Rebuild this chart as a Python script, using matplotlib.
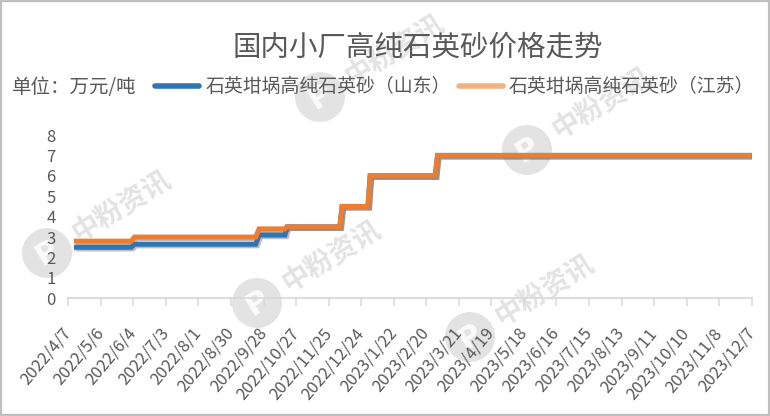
import datetime as dt
import numpy as np
import matplotlib
matplotlib.use("Agg")
import matplotlib.pyplot as plt
import matplotlib.patheffects as pe
from matplotlib.patches import Circle, Rectangle
from matplotlib.transforms import IdentityTransform, ScaledTranslation

plt.rcParams['font.family'] = ['Noto Sans CJK SC', 'DejaVu Sans']

# ---- data -------------------------------------------------------------
title = "国内小厂高纯石英砂价格走势"
unit_label = "单位：万元/吨"
series_names = ["石英坩埚高纯石英砂（山东）", "石英坩埚高纯石英砂（江苏）"]

dates = ["2022-04-12", "2022-06-02", "2022-06-05", "2022-09-21", "2022-09-24",
         "2022-10-17", "2022-10-19", "2022-12-05", "2022-12-07", "2022-12-30",
         "2023-01-01", "2023-02-28", "2023-03-02", "2023-12-07"]
shandong = [2.5, 2.5, 2.65, 2.65, 3.1, 3.1, 3.5, 3.5, 4.5, 4.5, 6, 6, 7, 7]
jiangsu = [2.8, 2.8, 3.0, 3.0, 3.4, 3.4, 3.5, 3.5, 4.5, 4.5, 6, 6, 7, 7]

tick_labels = ["2022/4/7", "2022/5/6", "2022/6/4", "2022/7/3", "2022/8/1",
               "2022/8/30", "2022/9/28", "2022/10/27", "2022/11/25", "2022/12/24",
               "2023/1/22", "2023/2/20", "2023/3/21", "2023/4/19", "2023/5/18",
               "2023/6/16", "2023/7/15", "2023/8/13", "2023/9/11", "2023/10/10",
               "2023/11/8", "2023/12/7"]
y_ticks = [0, 1, 2, 3, 4, 5, 6, 7, 8]

# ---- styling ----------------------------------------------------------
BLUE = "#2e75b6"
ORANGE = "#ed7d31"
ORANGE_LEGEND = "#f4b183"
TEXT = "#595959"
AXIS = "#d9d9d9"

W, H = 770, 416
fig = plt.figure(figsize=(W / 100, H / 100), dpi=100)
fig.patch.set_facecolor("white")


def watermark(cx, cy):
    """Faint rotated brand mark, (cx, cy) in pixels from the top-left."""
    ang = 32
    y = H - cy
    fig.add_artist(Circle((cx, y), 25, transform=IdentityTransform(),
                          facecolor="#c8c8c8", edgecolor="none", alpha=0.5, zorder=-5))
    fig.text(cx, y, "P", transform=IdentityTransform(), color="white",
             fontsize=22, fontweight="bold", rotation=ang, ha="center", va="center",
             rotation_mode="anchor", alpha=0.85, zorder=-4, family="DejaVu Sans")
    r = np.deg2rad(ang)
    fig.text(cx + 33 * np.cos(r), y + 33 * np.sin(r), "中粉资讯",
             transform=IdentityTransform(), color="#c8c8c8", alpha=0.5,
             fontsize=20, fontweight="bold", rotation=ang, ha="left", va="center",
             rotation_mode="anchor", zorder=-4)


for cx, cy in [(320, 97), (47, 253), (257, 303), (527, 150), (470, 337)]:
    watermark(cx, cy)

x0, x1 = 68.3, 751.7
y0, y1 = 298.3, 135.0
ax = fig.add_axes([x0 / W, 1 - y0 / H, (x1 - x0) / W, (y0 - y1) / H])
ax.set_facecolor("none")

x = [dt.datetime.strptime(d, "%Y-%m-%d") for d in dates]
shadow = [pe.SimpleLineShadow(offset=(1.2, -1.2), shadow_color="#6b6b6b", alpha=0.45),
          pe.Normal()]
l1, = ax.plot(x, shandong, color=BLUE, lw=3.6, solid_capstyle="butt",
              solid_joinstyle="miter", path_effects=shadow, label=series_names[0], zorder=3)
l2, = ax.plot(x, jiangsu, color=ORANGE, lw=3.6, solid_capstyle="butt",
              solid_joinstyle="miter", path_effects=shadow, label=series_names[1], zorder=4)

ticks = [dt.datetime.strptime(t, "%Y/%m/%d") for t in tick_labels]
ax.set_xlim(ticks[0], ticks[-1])
ax.set_ylim(0, 8)
ax.set_xticks(ticks)
ax.set_xticklabels(tick_labels, rotation=50, ha="right", va="center",
                   rotation_mode="anchor", fontsize=12, color=TEXT)
shift = ScaledTranslation(6 / 100, 0, fig.dpi_scale_trans)
for lab in ax.get_xticklabels():
    lab.set_transform(lab.get_transform() + shift)
ax.set_yticks(y_ticks)
ax.set_yticklabels([str(v) for v in y_ticks], fontsize=12, color=TEXT)

for s in ["top", "right", "left"]:
    ax.spines[s].set_visible(False)
ax.spines["bottom"].set_color(AXIS)
ax.spines["bottom"].set_linewidth(1.3)
ax.tick_params(axis="x", length=6, width=1.1, color=AXIS, pad=17, direction="out")
ax.tick_params(axis="y", length=0, pad=9)

fig.text(418 / W, 1 - 48 / H, title, ha="center", va="center",
         fontsize=20.5, fontweight="light", color=TEXT)
fig.text(12 / W, 1 - 87 / H, unit_label, ha="left", va="center",
         fontsize=14, color=TEXT)

leg = fig.legend(handles=[l1, l2], loc="center left",
                 bbox_to_anchor=(155 / W, 1 - 87 / H), ncol=2, frameon=False,
                 fontsize=13.6, handlelength=2.35, handletextpad=0.3,
                 columnspacing=0.45, borderaxespad=0, borderpad=0)
for t in leg.get_texts():
    t.set_color(TEXT)
for h, c in zip(leg.legend_handles, [BLUE, ORANGE_LEGEND]):
    h.set_color(c)
    h.set_linewidth(4.0)
    h.set_path_effects([])
    h.set_solid_capstyle("round")

fig.add_artist(Rectangle((0, 0), 1, 1, transform=fig.transFigure, fill=False,
                         edgecolor="#bfbfbf", linewidth=3, zorder=10))

fig.savefig("out.png", dpi=100)
